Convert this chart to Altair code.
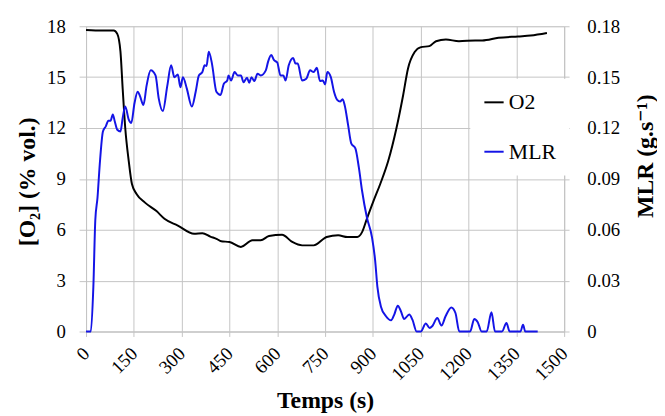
import altair as alt
import pandas as pd

# O2 concentration (% vol.) vs time (s)
o2_time = [0, 51, 87, 98, 108, 115, 123, 134, 144, 159, 185, 221, 246, 288, 339, 365, 390, 411,
           424, 450, 486, 522, 548, 574, 615, 647, 678, 714, 755, 791, 820, 851, 866, 881, 902,
           923, 948, 974, 995, 1010, 1031, 1051, 1077, 1098, 1129, 1170, 1221, 1243, 1294, 1355,
           1395, 1446]
o2_vals = [17.78, 17.75, 17.75, 17.55, 16.5, 14.3, 12.0, 10.05, 8.7, 8.1, 7.6, 7.1, 6.65, 6.25,
           5.77, 5.8, 5.6, 5.45, 5.32, 5.28, 4.99, 5.38, 5.38, 5.63, 5.71, 5.28, 5.08, 5.08, 5.57,
           5.67, 5.57, 5.57, 5.86, 6.64, 7.7, 8.7, 10.05, 12.0, 13.95, 15.5, 16.48, 16.77, 16.83,
           17.12, 17.22, 17.12, 17.16, 17.16, 17.32, 17.4, 17.45, 17.6]

# Mass loss rate (g/s) vs time (s)
mlr_time = [0, 15, 23, 29, 36, 43, 53, 62, 70, 77, 84, 90, 98, 108, 115, 123, 134, 142, 152, 162,
            169, 180, 190, 203, 218, 228, 241, 255, 267, 277, 288, 296, 304, 316, 332, 344, 354,
            365, 372, 378, 385, 395, 409, 422, 432, 443, 447, 455, 466, 476, 486, 494, 505, 512,
            519, 528, 538, 548, 564, 571, 581, 590, 600, 610, 619, 626, 636, 650, 657, 664, 678,
            691, 703, 714, 724, 734, 743, 750, 757, 768, 778, 788, 797, 805, 812, 822, 832, 845,
            856, 866, 881, 897, 907, 914, 925, 941, 957, 967, 978, 988, 998, 1014, 1024, 1037,
            1050, 1066, 1078, 1086, 1102, 1115, 1128, 1146, 1159, 1171, 1205, 1218, 1229, 1241,
            1257, 1272, 1283, 1305, 1319, 1329, 1363, 1371, 1378, 1417]
mlr_vals = [0, 0, 0.0265, 0.0655, 0.079, 0.0985, 0.118, 0.121, 0.1243, 0.1243, 0.128, 0.124,
            0.119, 0.118, 0.126, 0.1327, 0.125, 0.123, 0.1346, 0.1414, 0.139, 0.1336, 0.145,
            0.154, 0.151, 0.1375, 0.130, 0.145, 0.157, 0.150, 0.1515, 0.144, 0.150, 0.1434,
            0.1327, 0.1414, 0.151, 0.153, 0.157, 0.1566, 0.165, 0.158, 0.1414, 0.1395, 0.146,
            0.148, 0.151, 0.148, 0.153, 0.151, 0.151, 0.147, 0.1496, 0.1467, 0.150, 0.1477,
            0.152, 0.151, 0.154, 0.159, 0.163, 0.160, 0.1586, 0.151, 0.151, 0.148, 0.157,
            0.1613, 0.158, 0.158, 0.148, 0.149, 0.154, 0.153, 0.1555, 0.1477, 0.148, 0.1457,
            0.153, 0.150, 0.1414, 0.1366, 0.1356, 0.137, 0.133, 0.122, 0.111, 0.108, 0.0966,
            0.083, 0.0674, 0.0557, 0.042, 0.0265, 0.0148, 0.009, 0.0066, 0.010, 0.0152, 0.0119,
            0.0074, 0.010, 0.007, 0, 0, 0.0047, 0.0021, 0.0031, 0.008, 0.0035, 0.009, 0.0142,
            0.0109, 0, 0, 0.0074, 0.0055, 0, 0, 0.0113, 0, 0, 0.005, 0, 0, 0.004, 0, 0]

series_names = ["O2", "MLR"]
series_colors = ["#000000", "#1414e6"]

o2_df = pd.DataFrame({"t": o2_time, "v": o2_vals, "series": "O2"})
mlr_df = pd.DataFrame({"t": mlr_time, "v": mlr_vals, "series": "MLR"})

x_ticks = list(range(0, 1501, 150))
o2_ticks = [0, 3, 6, 9, 12, 15, 18]
mlr_ticks = [0, 0.03, 0.06, 0.09, 0.12, 0.15, 0.18]

FONT = "Times New Roman, Liberation Serif, DejaVu Serif, serif"
GRID = "#c4c4c4"

color = alt.Color(
    "series:N",
    scale=alt.Scale(domain=series_names, range=series_colors),
    legend=alt.Legend(
        title=None, orient="none", legendX=389, legendY=53,
        fillColor="white", padding=13, symbolType="stroke",
        symbolStrokeWidth=2, symbolSize=380, rowPadding=28,
        labelOffset=4, labelFont=FONT, labelFontSize=22, labelColor="#000000",
    ),
)

x_enc = alt.X(
    "t:Q",
    scale=alt.Scale(domain=[0, 1500], nice=False),
    axis=alt.Axis(
        values=x_ticks, format="d", title="Temps (s)", grid=True,
        tickSize=5, labelAngle=315, labelAlign="right", labelBaseline="middle",
        labelPadding=14, titleY=77, titleBaseline="alphabetic",
        labelFont=FONT, titleFont=FONT,
    ),
)

o2_line = alt.Chart(o2_df).mark_line(strokeWidth=2, interpolate="monotone").encode(
    x=x_enc,
    y=alt.Y(
        "v:Q",
        scale=alt.Scale(domain=[0, 18], nice=False),
        axis=alt.Axis(
            values=o2_ticks, title="[O₂]  (% vol.)", grid=True,
            tickSize=7, labelPadding=14,
            titleX=-59, titleY=157, titleBaseline="middle",
            labelFont=FONT, titleFont=FONT,
        ),
    ),
    color=color,
)

mlr_line = alt.Chart(mlr_df).mark_line(strokeWidth=2, interpolate="monotone").encode(
    x=x_enc,
    y=alt.Y(
        "v:Q",
        scale=alt.Scale(domain=[0, 0.18], nice=False),
        axis=alt.Axis(
            orient="right", values=mlr_ticks, format=".2~f", title="MLR (g.s⁻¹)",
            grid=False, tickSize=5, labelPadding=18,
            titleAngle=270, titleX=82, titleY=131, titleBaseline="middle",
            labelFont=FONT, titleFont=FONT,
        ),
    ),
    color=color,
)

chart = (
    alt.layer(o2_line, mlr_line)
    .resolve_scale(y="independent")
    .properties(
        width=484, height=309,
        autosize=alt.AutoSizeParams(type="none"),
        padding={"left": 79, "top": 16, "right": 94, "bottom": 80},
    )
    .configure_view(stroke=None)
    .configure(background="white", font=FONT)
    .configure_axis(
        labelFontSize=19, labelColor="#000000",
        titleFontSize=24, titleFontWeight="bold", titleColor="#000000",
        gridColor=GRID, domainColor=GRID, tickColor=GRID,
    )
)

chart.save("out.html", embed_options={"renderer": "svg", "actions": False})
